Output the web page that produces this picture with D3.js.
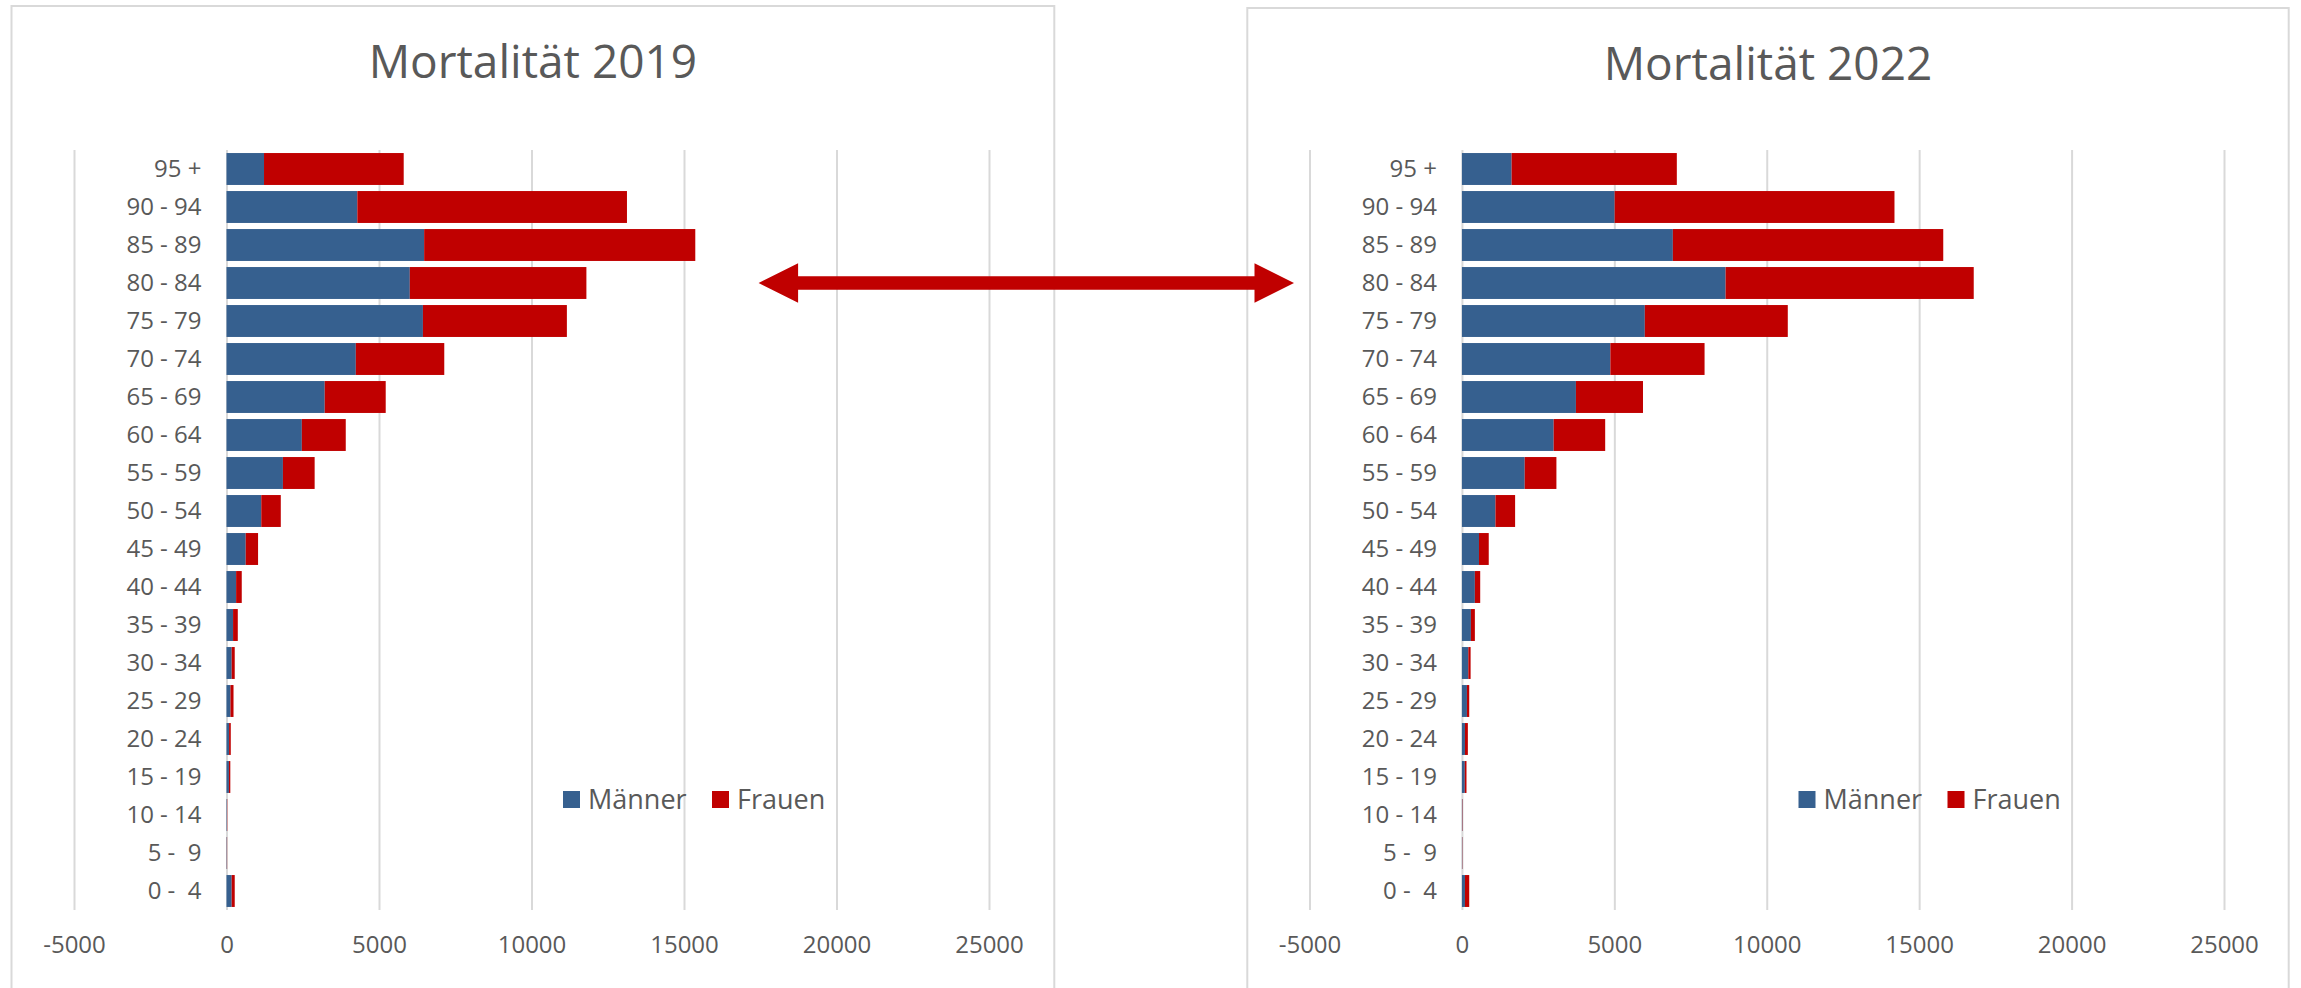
<!DOCTYPE html>
<html>
<head>
<meta charset="utf-8">
<script src="https://cdn.jsdelivr.net/npm/d3@7"></script>
<style>
  html, body { margin: 0; padding: 0; background: #ffffff; }
  svg { display: block; font-family: 'Open Sans', sans-serif; }
  text { white-space: pre; }
</style>
</head>
<body>
<svg id="chart" width="2301" height="988"></svg>
<script>
// Age groups, top to bottom
const ageGroups = ["95 +", "90 - 94", "85 - 89", "80 - 84", "75 - 79", "70 - 74", "65 - 69",
  "60 - 64", "55 - 59", "50 - 54", "45 - 49", "40 - 44", "35 - 39", "30 - 34", "25 - 29",
  "20 - 24", "15 - 19", "10 - 14", "5 -  9", "0 -  4"];

// Deaths per age group
const maenner2019 = [1230, 4290, 6480, 6010, 6440, 4240, 3220, 2470, 1850, 1140, 630, 315, 215, 170, 130, 85, 80, 15, 12, 170];
const frauen2019  = [4580, 8840, 8890, 5790, 4720, 2900, 2000, 1440, 1040, 640, 405, 185, 155, 100, 100, 55, 45, 10, 8, 100];
const maenner2022 = [1630, 5010, 6920, 8650, 6000, 4870, 3740, 3010, 2060, 1100, 560, 425, 295, 210, 165, 100, 95, 15, 12, 100];
const frauen2022  = [5420, 9180, 8870, 8140, 4690, 3090, 2200, 1690, 1040, 645, 320, 175, 130, 75, 75, 95, 55, 10, 8, 140];

const xTicks = [-5000, 0, 5000, 10000, 15000, 20000, 25000];
const seriesNames = ["Männer", "Frauen"];
const seriesColors = ["#36608f", "#c00000"];

const svg = d3.select("#chart");
const textColor = "#595959";
const gridColor = "#d9d9d9";

const panels = [
  { title: "Mortalität 2019", men: maenner2019, women: frauen2019,
    box: [11.5, 6, 1054.3], plotX: [74, 989], titleY: 78 },
  { title: "Mortalität 2022", men: maenner2022, women: frauen2022,
    box: [1247.3, 8, 2288.7], plotX: [1309.5, 2224], titleY: 80 }
];

const plotTop = 150, plotBottom = 910;

function drawPanel(p) {
  const g = svg.append("g");

  // chart frame
  g.append("rect")
    .attr("x", p.box[0]).attr("y", p.box[1])
    .attr("width", p.box[2] - p.box[0]).attr("height", 1100)
    .attr("fill", "#ffffff").attr("stroke", gridColor).attr("stroke-width", 2);

  // title
  g.append("text")
    .attr("x", (p.box[0] + p.box[2]) / 2).attr("y", p.titleY)
    .attr("text-anchor", "middle")
    .attr("font-size", 46).attr("fill", textColor)
    .text(p.title);

  const x = d3.scaleLinear().domain([-5000, 25000]).range(p.plotX);
  const y = d3.scaleBand().domain(ageGroups).range([plotTop, plotBottom])
    .paddingInner(0.16).paddingOuter(0.08);

  // vertical gridlines
  const grid = g.append("g").attr("transform", `translate(0,${plotBottom})`)
    .call(d3.axisBottom(x).tickValues(xTicks)
      .tickSizeInner(-(plotBottom - plotTop)).tickSizeOuter(0)
      .tickPadding(25.5).tickFormat(d => String(d)));
  grid.select(".domain").remove();
  grid.selectAll(".tick line").attr("stroke", gridColor).attr("stroke-width", 2);
  grid.selectAll(".tick text")
    .attr("font-size", 24).attr("fill", textColor)
    .attr("font-family", "'Open Sans', sans-serif");

  // stacked bars
  const rows = ageGroups.map((a, i) => ({ age: a, m: p.men[i], f: p.women[i] }));
  const stacked = d3.stack().keys(["m", "f"])(rows);
  g.append("g").selectAll("g")
    .data(stacked)
    .join("g")
      .attr("fill", (d, i) => seriesColors[i])
    .selectAll("rect")
    .data(d => d)
    .join("rect")
      .attr("x", d => x(d[0]))
      .attr("width", d => Math.max(0, x(d[1]) - x(d[0])))
      .attr("y", d => y(d.data.age))
      .attr("height", y.bandwidth());

  // category labels
  const cat = g.append("g").attr("transform", `translate(${x(0)},0)`)
    .call(d3.axisLeft(y).tickSize(0).tickPadding(25));
  cat.select(".domain").remove();
  cat.selectAll(".tick text")
    .attr("font-size", 24).attr("fill", textColor)
    .attr("font-family", "'Open Sans', sans-serif");

  // legend
  const lx = p.plotX[0] + 489, ly = 791;
  const offsets = [0, 149];
  const leg = g.append("g");
  seriesNames.forEach((name, i) => {
    leg.append("rect")
      .attr("x", lx + offsets[i]).attr("y", ly)
      .attr("width", 17).attr("height", 17)
      .attr("fill", seriesColors[i]);
    leg.append("text")
      .attr("x", lx + offsets[i] + 25).attr("y", ly + 18)
      .attr("font-size", 27).attr("fill", textColor)
      .text(name);
  });
}

panels.forEach(drawPanel);

// double-headed arrow between the two charts
const ax0 = 758.6, ax1 = 1294, ay = 283, headLen = 39.5, headHalf = 19.7, shaftHalf = 6.7;
const arrowPts = [
  [ax0, ay], [ax0 + headLen, ay - headHalf], [ax0 + headLen, ay - shaftHalf],
  [ax1 - headLen, ay - shaftHalf], [ax1 - headLen, ay - headHalf], [ax1, ay],
  [ax1 - headLen, ay + headHalf], [ax1 - headLen, ay + shaftHalf],
  [ax0 + headLen, ay + shaftHalf], [ax0 + headLen, ay + headHalf]
];
svg.append("path")
  .attr("d", d3.line()(arrowPts) + "Z")
  .attr("fill", "#c00000");
</script>
</body>
</html>
